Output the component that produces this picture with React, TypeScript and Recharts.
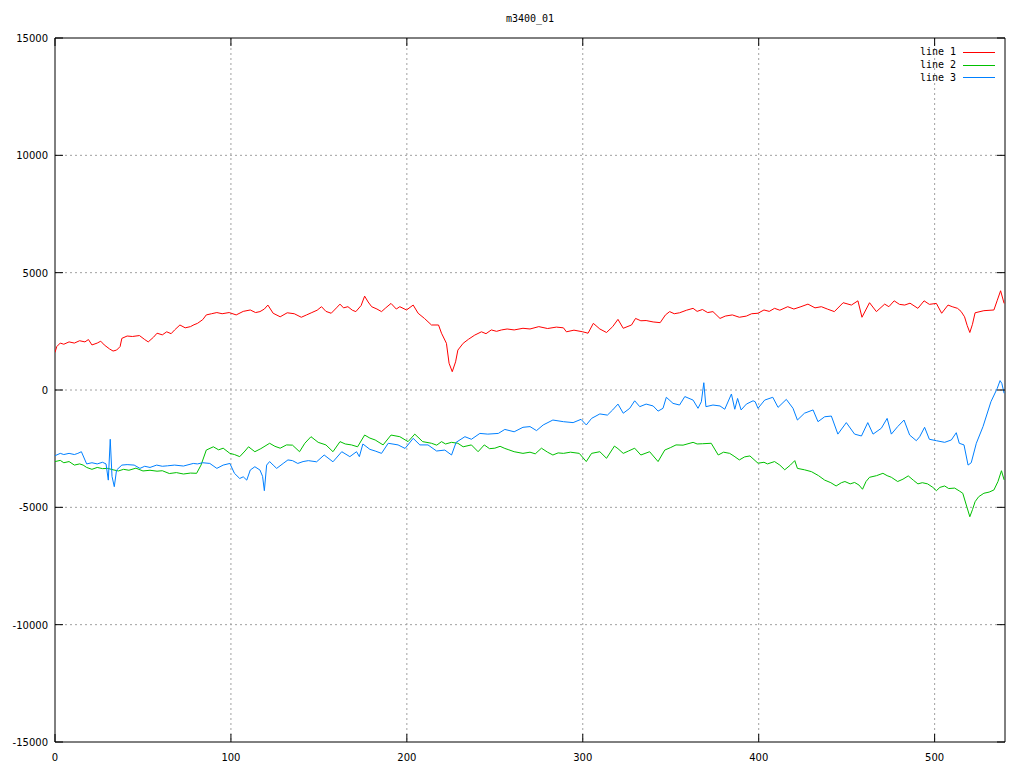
import React from 'react';
import { LineChart, Line, XAxis, YAxis, CartesianGrid, ReferenceArea } from 'recharts';

// ---------- data ----------
const TITLE = 'm3400_01';
const xTicks = [0, 100, 200, 300, 400, 500];
const yTicks = [-15000, -10000, -5000, 0, 5000, 10000, 15000];
const xDomain: [number, number] = [0, 540];
const yDomain: [number, number] = [-15000, 15000];
const seriesNames = ['line 1', 'line 2', 'line 3'];
const seriesColors = ['#ff0000', '#00c000', '#0080ff'];

const line1: [number, number][] = [
  [0, 1600], [1, 1850], [3, 2000], [5, 1950], [8, 2050], [11, 2000], [14, 2100], [17, 2050], [19, 2150], [21, 1920],
  [24, 2000], [26, 2080], [28, 1920], [31, 1750], [33, 1660], [35, 1700], [37, 1850], [38, 2200], [41, 2300], [44, 2280],
  [48, 2320], [51, 2150], [53, 2050], [56, 2250], [58, 2420], [61, 2350], [63.5, 2480], [66, 2400], [68, 2560], [71, 2770],
  [74, 2650], [77, 2700], [79, 2780], [81, 2840], [84, 3000], [86, 3200], [89, 3250], [92, 3300], [95, 3250], [99, 3300],
  [103, 3200], [107, 3350], [111, 3410], [114, 3300], [116.5, 3340], [119, 3450], [121, 3620], [124, 3270], [128, 3120], [132, 3290],
  [136, 3250], [140, 3100], [143, 3200], [146, 3300], [149, 3400], [151.5, 3550], [154, 3350], [157, 3270], [160, 3500], [162, 3660],
  [164, 3500], [166.5, 3550], [169, 3400], [171, 3340], [174, 3600], [176, 4000], [178, 3750], [180, 3550], [183, 3450], [185.6, 3340],
  [188, 3500], [191, 3690], [194, 3450], [196, 3550], [199.8, 3410], [203.6, 3620], [206.4, 3270], [210, 3050], [214, 2770], [218, 2770],
  [219.7, 2420], [222.5, 1990], [224, 1140], [225.8, 780], [227.7, 1200], [229, 1700], [232, 1990], [235, 2160], [238.6, 2340], [242.4, 2480],
  [245, 2400], [248, 2560], [251, 2500], [253.8, 2560], [257, 2600], [261, 2560], [266, 2630], [270, 2600], [275, 2700], [280, 2620],
  [285, 2680], [289, 2650], [290.7, 2480], [295, 2550], [300, 2480], [303, 2420], [306, 2840], [309.7, 2600], [313.5, 2450], [317, 2700],
  [320, 3010], [323, 2630], [327.7, 2770], [330, 3050], [333, 2950], [336, 2960], [340, 2900], [344, 2870], [347, 3200], [349.4, 3340],
  [352, 3250], [355, 3290], [359, 3400], [362.7, 3480], [365, 3350], [368, 3430], [371, 3300], [374, 3340], [378, 3050], [381, 3150],
  [385, 3200], [389, 3100], [393, 3150], [396, 3250], [399.6, 3270], [403, 3410], [406, 3350], [409, 3480], [412, 3400], [416.5, 3550],
  [420, 3450], [424, 3550], [428, 3660], [432, 3500], [435.6, 3550], [439, 3450], [443, 3340], [448, 3720], [452.7, 3620], [456.4, 3800],
  [458.7, 3100], [463, 3720], [466.9, 3340], [471.6, 3660], [474, 3550], [477, 3800], [480, 3650], [483, 3620], [486, 3700], [490.5, 3480],
  [494, 3800], [497, 3650], [501, 3690], [504, 3270], [507.6, 3620], [510, 3550], [513, 3480], [515, 3350], [517, 3120], [518.5, 2750],
  [520, 2450], [521.5, 2800], [523, 3290], [528, 3380], [533.7, 3410], [535.5, 3800], [537.5, 4230], [539.5, 3690],
];

const line2: [number, number][] = [
  [0, -3050], [3, -3000], [5, -3100], [8, -3050], [11, -3200], [14, -3150], [16, -3200], [18, -3300], [21, -3380], [24, -3300],
  [27, -3350], [30, -3340], [33, -3400], [36, -3450], [39, -3380], [42, -3420], [46, -3330], [50, -3450], [54, -3420], [58, -3460],
  [61, -3440], [65, -3560], [69, -3520], [73, -3580], [77, -3540], [80.5, -3550], [83, -3200], [86, -2560], [90, -2420], [93, -2550],
  [95.6, -2480], [99.4, -2700], [102, -2750], [105, -2840], [108, -2600], [110, -2420], [113.6, -2630], [117, -2500], [122, -2270], [125, -2400],
  [128, -2480], [131.6, -2340], [135, -2350], [139, -2630], [142, -2270], [145.5, -1990], [149.6, -2230], [154, -2340], [158, -2630], [162, -2200],
  [165, -2300], [168.5, -2340], [172, -2420], [176, -1920], [179, -2050], [182, -2130], [186.5, -2340], [191, -1920], [196, -1990], [200.7, -2200],
  [204.5, -1880], [209, -2200], [214, -2270], [217, -2350], [219.7, -2200], [222, -2300], [225.4, -2230], [229, -2270], [232, -2420], [236.7, -2340],
  [240.5, -2630], [244, -2340], [247, -2500], [250, -2480], [253, -2400], [255.7, -2490], [258, -2550], [261, -2630], [266, -2700], [270, -2650],
  [273, -2720], [276.5, -2480], [280, -2650], [283, -2770], [286, -2680], [289, -2700], [293, -2650], [298, -2700], [302, -3050], [305, -2700],
  [309.7, -2630], [313.5, -2910], [318, -2390], [320, -2500], [323, -2700], [326, -2600], [329.5, -2480], [333, -2770], [338, -2630], [342.8, -3050],
  [346.6, -2560], [350, -2450], [353, -2340], [357, -2350], [362.7, -2230], [365, -2300], [368, -2290], [373, -2270], [377, -2770], [380, -2650],
  [383.5, -2700], [386, -2820], [389, -2980], [392, -2850], [395, -2810], [399.6, -3120], [403, -3080], [405, -3150], [409, -3050], [412, -3200],
  [414.8, -3400], [418, -3200], [420.5, -3010], [422, -3340], [426, -3400], [430, -3480], [434, -3650], [437.5, -3840], [441, -3950], [444, -4090],
  [447, -3950], [449, -3900], [452, -4000], [454.5, -3940], [457, -4050], [459, -4230], [461, -3900], [463, -3720], [467, -3650], [470.6, -3550],
  [473, -3650], [475.4, -3720], [479, -3900], [482, -3800], [485, -3660], [488, -3850], [490.5, -4000], [493, -3950], [496, -4000], [499, -4150],
  [501, -4290], [503, -4150], [505.7, -4090], [508, -4200], [511.4, -4180], [514, -4300], [516, -4400], [518, -4900], [520, -5400], [521.5, -5100],
  [523, -4760], [525, -4550], [528, -4400], [531, -4350], [533.7, -4260], [536, -3900], [538, -3440], [539.5, -3830],
];

const line3: [number, number][] = [
  [0, -2800], [3, -2700], [5, -2750], [8, -2700], [11, -2750], [13, -2700], [15, -2630], [18, -3150], [21, -3100], [24, -3150],
  [27, -3080], [29, -3150], [30.3, -3840], [31.4, -2100], [32.4, -3680], [33.7, -4120], [35, -3410], [38, -3200], [41, -3180], [45, -3200],
  [48.3, -3340], [51, -3250], [54, -3300], [57.8, -3200], [61, -3250], [64, -3230], [68, -3200], [73, -3240], [78.6, -3130], [81, -3150],
  [84, -3100], [88, -3130], [92, -3340], [95.6, -3200], [99.4, -3130], [102, -3550], [105, -3770], [107, -3700], [109, -3840], [111, -3410],
  [113.6, -3270], [116.5, -3410], [118, -3680], [119, -4290], [120.3, -3200], [122, -3050], [124, -3200], [126, -3340], [129.7, -3130], [132.4, -2980],
  [135, -3010], [138, -3130], [141, -3050], [144, -3010], [148.7, -3060], [153, -2770], [158, -3060], [163, -2630], [167.6, -2840], [171.4, -2630],
  [173, -2840], [175, -2300], [179, -2530], [182, -2600], [185.6, -2700], [189.4, -2270], [195, -2340], [199, -2490], [203.6, -2060], [207.4, -2340],
  [212, -2340], [216.9, -2600], [221.6, -2560], [225.4, -2770], [228, -2230], [233, -1990], [236.7, -2100], [241.5, -1850], [246, -1880], [252, -1850],
  [255.7, -1680], [261, -1780], [266, -1590], [270, -1560], [273.7, -1730], [277.5, -1490], [283, -1280], [289, -1350], [294.5, -1390], [299, -1250],
  [302, -1490], [305, -1210], [309.7, -1020], [314, -1070], [317, -850], [320, -600], [323, -990], [326.7, -780], [329.5, -460], [332.4, -710],
  [336, -600], [340, -680], [342.8, -900], [345.6, -780], [347.5, -310], [351.3, -570], [355, -640], [358, -280], [362.7, -430], [365.5, -780],
  [367.4, -500], [368.8, 310], [370, -710], [374, -640], [378, -680], [380.7, -820], [384.5, -170], [386.4, -820], [388, -360], [390, -850],
  [393, -600], [396.8, -460], [398, -500], [399.6, -780], [403.4, -430], [408, -310], [411, -740], [415.7, -400], [419.5, -780], [422, -1280],
  [426, -990], [430.9, -850], [433.7, -1350], [437.5, -1140], [441.3, -1110], [445, -1880], [449.8, -1390], [454.5, -1880], [458.4, -1960], [462, -1390],
  [465, -1880], [469.7, -1630], [473, -1210], [475.4, -1880], [479, -1560], [482.6, -1280], [485.8, -1920], [489.6, -2160], [491.5, -1990], [494.3, -1590],
  [497, -2100], [501, -2160], [505.7, -2230], [509.5, -2130], [512.3, -1820], [514, -2270], [516.7, -2340], [519, -3200], [520.8, -3100], [523.7, -2270],
  [527.5, -1560], [532, -500], [535.6, 70], [537.2, 400], [538.2, 280], [539.5, -140],
];

const seriesData = [line1, line2, line3].map((pts) => pts.map(([x, y]) => ({ x, y })));

// ---------- layout ----------
const CHART_W = 1024;
const CHART_H = 768;
const MARGIN = { top: 38, right: 19, bottom: 6, left: 5 };
const Y_AXIS_W = 50;
const X_AXIS_H = 20;
const PLOT_LEFT = MARGIN.left + Y_AXIS_W;
const PLOT_RIGHT = CHART_W - MARGIN.right;
const PLOT_TOP = MARGIN.top;
const PLOT_BOTTOM = CHART_H - MARGIN.bottom - X_AXIS_H;
const TICK_LEN = 8;
const TICK_FONT = '"DejaVu Sans", sans-serif';
const MONO_FONT = '"DejaVu Sans Mono", monospace';

const XTick = (props: any) => {
  const { x, payload } = props;
  return (
    <g>
      <line x1={x} x2={x} y1={PLOT_BOTTOM} y2={PLOT_BOTTOM - TICK_LEN} stroke="#000" />
      <line x1={x} x2={x} y1={PLOT_TOP} y2={PLOT_TOP + TICK_LEN} stroke="#000" />
      <text x={x} y={PLOT_BOTTOM + 19} textAnchor="middle" fontSize={10} fontFamily={TICK_FONT} fill="#000">
        {payload.value}
      </text>
    </g>
  );
};

const YTick = (props: any) => {
  const { y, payload } = props;
  return (
    <g>
      <line x1={PLOT_LEFT} x2={PLOT_LEFT + TICK_LEN} y1={y} y2={y} stroke="#000" />
      <line x1={PLOT_RIGHT - TICK_LEN} x2={PLOT_RIGHT} y1={y} y2={y} stroke="#000" />
      <text x={PLOT_LEFT - 7} y={y + 4} textAnchor="end" fontSize={10} fontFamily={TICK_FONT} fill="#000">
        {payload.value}
      </text>
    </g>
  );
};

const KeyBox = () => (
  <div
    style={{
      position: 'absolute', top: 46, right: 29, fontFamily: MONO_FONT, fontSize: 10, color: '#000',
    }}
  >
    {seriesNames.map((name, i) => (
      <div key={name} style={{ display: 'flex', alignItems: 'center', justifyContent: 'flex-end', height: 12.7 }}>
        <span style={{ lineHeight: '12px' }}>{name}</span>
        <span style={{ display: 'inline-block', width: 32, height: 0, borderTop: `1px solid ${seriesColors[i]}`, marginLeft: 7 }} />
      </div>
    ))}
  </div>
);

export default function App() {
  return (
    <div style={{ position: 'absolute', left: 0, top: 0, width: CHART_W, height: CHART_H, background: '#fff' }}>
      <div
        style={{
          position: 'absolute', left: PLOT_LEFT, width: PLOT_RIGHT - PLOT_LEFT, top: 13, textAlign: 'center',
          fontFamily: MONO_FONT, fontSize: 10, color: '#000', lineHeight: '12px',
        }}
      >
        {TITLE}
      </div>
      <LineChart width={CHART_W} height={CHART_H} margin={MARGIN}>
        <CartesianGrid
          stroke="#a0a0a0"
          strokeDasharray="2 3"
          horizontalValues={yTicks.slice(1, -1)}
          verticalValues={xTicks.slice(1)}
        />
        <XAxis
          type="number"
          dataKey="x"
          domain={xDomain}
          ticks={xTicks}
          allowDataOverflow
          height={X_AXIS_H}
          tickSize={0}
          tickMargin={0}
          axisLine={false}
          tickLine={false}
          tick={<XTick />}
          interval={0}
        />
        <YAxis
          type="number"
          domain={yDomain}
          ticks={yTicks}
          allowDataOverflow
          width={Y_AXIS_W}
          tickSize={0}
          tickMargin={0}
          axisLine={false}
          tickLine={false}
          tick={<YTick />}
          interval={0}
        />
        <ReferenceArea x1={xDomain[0]} x2={xDomain[1]} y1={yDomain[0]} y2={yDomain[1]} fill="none" stroke="#000" strokeWidth={1} ifOverflow="visible" />
        {seriesData.map((d, i) => (
          <Line
            key={seriesNames[i]}
            data={d}
            dataKey="y"
            name={seriesNames[i]}
            type="linear"
            stroke={seriesColors[i]}
            strokeWidth={1}
            dot={false}
            isAnimationActive={false}
          />
        ))}
      </LineChart>
      <KeyBox />
    </div>
  );
}
